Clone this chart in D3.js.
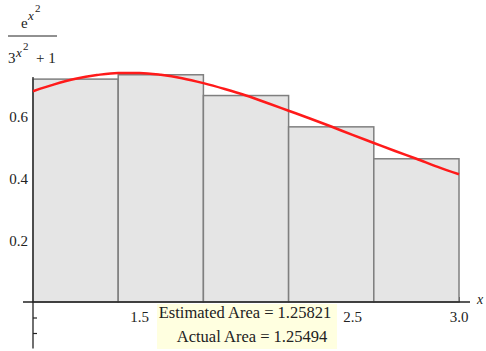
<!DOCTYPE html>
<html>
<head>
<meta charset="utf-8">
<script src="https://cdn.jsdelivr.net/npm/d3@7"></script>
<style>
  body { margin: 0; background: #fff; }
  svg { display: block; }
  text { font-family: "Liberation Serif", "Times New Roman", serif; }
</style>
</head>
<body>
<div id="chart"></div>
<script>
// Chart size
var w = 486;
var h = 351;

// Midpoint rectangles: left edges and heights
var rectStarts = [1.0, 1.4, 1.8, 2.2, 2.6];
var rectWidth = 0.4;
var rectHeights = [0.719, 0.733, 0.666, 0.565, 0.462];

// Red curve
var curveX = [1.0, 1.1, 1.2, 1.3, 1.4, 1.5, 1.6, 1.7, 1.8, 1.9, 2.0,
              2.1, 2.2, 2.3, 2.4, 2.5, 2.6, 2.7, 2.8, 2.9, 3.0];
var curveY = [0.680, 0.702, 0.720, 0.732, 0.739, 0.739, 0.733, 0.722, 0.706, 0.687, 0.666,
              0.642, 0.617, 0.592, 0.566, 0.539, 0.513, 0.487, 0.462, 0.436, 0.412];

// Ticks (2.0 label sits under the area box in the original, so it is not shown)
var xTicks = [1.5, 2.0, 2.5, 3.0];
var xTickLabels = [1.5, 2.5, 3.0];
var yTicks = [0.2, 0.4, 0.6];
var yMinorBelow = [-0.05, -0.1];

var estimatedLabel = "Estimated Area = 1.25821";
var actualLabel = "Actual Area = 1.25494";

var xScale = d3.scaleLinear()
    .domain([1, 3])
    .range([33, 459]);

var yScale = d3.scaleLinear()
    .domain([0, 0.6])
    .range([302, 116]);

var svg = d3.select("#chart")
    .append("svg")
    .attr("width", w)
    .attr("height", h);

// Tick marks (drawn first, rectangles cover them like in the original)
var xAxis = d3.axisBottom(xScale)
    .tickValues(xTicks)
    .tickSizeInner(-5)
    .tickSizeOuter(0);

var gx = svg.append("g")
    .attr("transform", "translate(0," + yScale(0) + ")")
    .call(xAxis);
gx.select(".domain").remove();
gx.selectAll("line").attr("stroke", "#333");
gx.selectAll("text").remove();

var yAxis = d3.axisLeft(yScale)
    .tickValues(yTicks.concat(yMinorBelow))
    .tickSizeInner(-4)
    .tickSizeOuter(0);

var gy = svg.append("g")
    .attr("transform", "translate(" + xScale(1) + ",0)")
    .call(yAxis);
gy.select(".domain").remove();
gy.selectAll("line").attr("stroke", "#222").attr("stroke-width", 1.2);
gy.selectAll("text")
    .attr("x", -5)
    .attr("dy", "0.35em")
    .style("font-size", "15px")
    .attr("fill", "#222")
    .text(function(d) { return d > 0 ? d3.format(".1f")(d) : ""; });

// Rectangles
svg.selectAll("rect.bin")
    .data(rectHeights)
    .enter()
    .append("rect")
    .attr("class", "bin")
    .attr("x", function(d, i) { return xScale(rectStarts[i]); })
    .attr("y", function(d) { return yScale(d); })
    .attr("width", function(d, i) { return xScale(rectStarts[i] + rectWidth) - xScale(rectStarts[i]); })
    .attr("height", function(d) { return yScale(0) - yScale(d); })
    .attr("fill", "#e5e5e5")
    .attr("stroke", "#7f7f7f")
    .attr("stroke-width", 1.5);

// Axis lines on top
svg.append("line")
    .attr("x1", 23).attr("x2", 470)
    .attr("y1", yScale(0)).attr("y2", yScale(0))
    .attr("stroke", "#222").attr("stroke-width", 1.3);

svg.append("line")
    .attr("x1", xScale(1)).attr("x2", xScale(1))
    .attr("y1", yScale(-0.15)).attr("y2", yScale(0.726))
    .attr("stroke", "#222").attr("stroke-width", 1.3);

// x tick labels
svg.selectAll("text.xlab")
    .data(xTickLabels)
    .enter()
    .append("text")
    .attr("class", "xlab")
    .attr("x", function(d) { return xScale(d); })
    .attr("y", yScale(0) + 20)
    .attr("text-anchor", "middle")
    .style("font-size", "15px")
    .attr("fill", "#222")
    .text(function(d) { return d3.format(".1f")(d); });

svg.append("text")
    .attr("x", 477)
    .attr("y", 304)
    .style("font-size", "14px")
    .style("font-style", "italic")
    .attr("fill", "#222")
    .text("x");

// Red curve
var line = d3.line()
    .x(function(d, i) { return xScale(curveX[i]); })
    .y(function(d) { return yScale(d); })
    .curve(d3.curveMonotoneX);

svg.append("path")
    .datum(curveY)
    .attr("d", line)
    .attr("fill", "none")
    .attr("stroke", "#ff1a1a")
    .attr("stroke-width", 2.5);

// Area labels box
svg.append("rect")
    .attr("x", 157)
    .attr("y", 304)
    .attr("width", 180)
    .attr("height", 45)
    .attr("fill", "#ffffe0");

svg.append("text")
    .attr("x", 245)
    .attr("y", 318)
    .attr("text-anchor", "middle")
    .style("font-size", "16.5px")
    .attr("fill", "#222")
    .text(estimatedLabel);

svg.append("text")
    .attr("x", 252)
    .attr("y", 342)
    .attr("text-anchor", "middle")
    .style("font-size", "16.5px")
    .attr("fill", "#222")
    .text(actualLabel);

// y label: e^(x^2) / (3^(x^2) + 1)
var lab = svg.append("g").attr("fill", "#222");
lab.append("text").attr("x", 21).attr("y", 28).style("font-size", "15px").text("e");
lab.append("text").attr("x", 28).attr("y", 20).style("font-size", "13px").style("font-style", "italic").text("x");
lab.append("text").attr("x", 35).attr("y", 12).style("font-size", "11px").text("2");
lab.append("line")
    .attr("x1", 8).attr("x2", 57)
    .attr("y1", 36).attr("y2", 36)
    .attr("stroke", "#222").attr("stroke-width", 1);
lab.append("text").attr("x", 8).attr("y", 63).style("font-size", "15px").text("3");
lab.append("text").attr("x", 16).attr("y", 57).style("font-size", "13px").style("font-style", "italic").text("x");
lab.append("text").attr("x", 23).attr("y", 50).style("font-size", "11px").text("2");
lab.append("text").attr("x", 36).attr("y", 63).style("font-size", "15px").text("+ 1");
</script>
</body>
</html>
